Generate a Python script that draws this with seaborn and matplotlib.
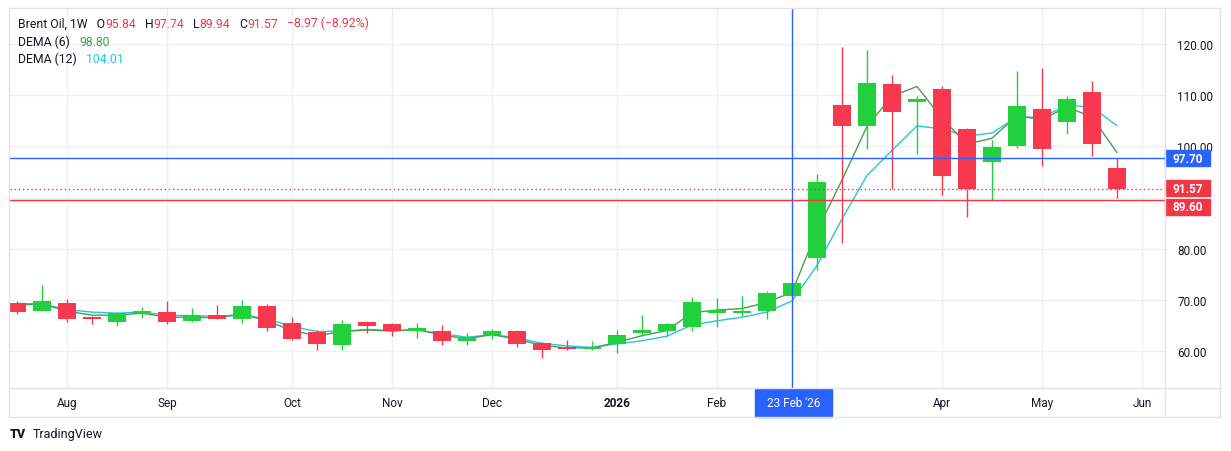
import numpy as np
import pandas as pd
import seaborn as sns
import matplotlib.pyplot as plt
import matplotlib.dates as mdates
import matplotlib.transforms as mtransforms
from matplotlib.patches import Rectangle
from matplotlib.lines import Line2D

# weekly Brent candles, week starting Monday
weeks = pd.date_range('2025-07-21', periods=45, freq='W-MON')
opens = [69.4, 67.9, 69.4, 66.3, 65.6, 67.5, 67.6, 65.9, 67.0, 66.2,
         68.8, 65.5, 63.7, 61.1, 65.6, 65.3, 63.9, 63.9, 61.9, 63.2,
         63.9, 61.6, 60.6, 60.3, 61.3, 63.6, 63.9, 64.7, 67.5, 67.4,
         67.8, 70.7, 78.1, 108.1, 103.9, 112.2, 108.6, 111.2, 103.4, 96.9,
         100.1, 107.3, 104.7, 110.6, 95.84]
highs = [69.8, 72.9, 70.2, 66.8, 67.6, 68.6, 69.8, 68.5, 68.9, 69.9,
         69.2, 66.7, 64.1, 66.0, 65.8, 65.4, 65.4, 65.0, 63.5, 64.3,
         64.1, 61.8, 62.2, 62.0, 64.1, 67.1, 65.5, 70.6, 70.3, 70.7,
         71.8, 73.6, 94.6, 119.5, 118.8, 114.0, 109.9, 111.8, 103.5, 101.2,
         114.7, 115.3, 109.9, 112.8, 97.74]
lows = [67.3, 67.9, 65.6, 65.3, 64.8, 66.4, 65.3, 65.7, 66.2, 65.4,
        64.0, 62.1, 60.1, 60.1, 63.5, 62.9, 62.5, 61.2, 61.2, 62.3,
        60.8, 58.7, 60.1, 60.1, 59.7, 63.0, 62.9, 63.9, 64.7, 66.9,
        66.3, 70.6, 75.9, 81.2, 99.5, 91.7, 98.5, 90.4, 86.1, 89.3,
        99.6, 96.1, 102.5, 98.1, 89.94]
closes = [67.7, 69.7, 66.2, 66.2, 67.5, 67.7, 65.6, 67.0, 66.2, 68.8,
          64.4, 62.3, 61.3, 65.2, 64.8, 63.9, 64.5, 61.9, 62.7, 63.9,
          61.3, 60.2, 60.4, 60.5, 63.1, 64.1, 65.3, 69.6, 68.1, 67.8,
          71.3, 73.3, 93.1, 103.9, 112.4, 106.8, 109.3, 94.3, 91.6, 99.8,
          107.9, 99.5, 109.2, 100.5, 91.57]
dema6 = [69.0, 69.2, 67.8, 67.0, 67.0, 67.4, 66.6, 66.6, 66.5, 67.2,
         65.9, 64.0, 63.0, 63.8, 64.1, 63.9, 64.2, 63.1, 62.4, 63.2,
         62.3, 61.1, 60.6, 60.6, 61.7, 63.0, 64.0, 67.5, 68.0, 68.3,
         69.5, 71.5, 83.5, 93.4, 103.9, 109.8, 111.7, 105.5, 100.4, 101.6,
         106.0, 105.2, 107.7, 105.7, 98.80]
dema12 = [69.3, 69.2, 68.1, 67.6, 67.4, 67.6, 67.0, 66.9, 66.8, 67.1,
          66.3, 64.8, 63.8, 63.9, 64.2, 64.0, 64.1, 63.4, 62.7, 63.2,
          62.6, 61.5, 61.0, 60.7, 61.4, 62.0, 62.9, 65.1, 65.9, 66.6,
          67.6, 69.8, 76.7, 85.8, 94.3, 99.2, 104.0, 103.4, 102.0, 102.6,
          105.7, 105.7, 108.0, 107.7, 104.01]

tick_dates = pd.to_datetime(['2025-08-04', '2025-09-01', '2025-10-06', '2025-11-03',
                             '2025-12-01', '2026-01-05', '2026-02-02', '2026-03-02',
                             '2026-04-06', '2026-05-04', '2026-06-01'])
# Mar sits under the crosshair date label, so it is not shown
tick_labels = ['Aug', 'Sep', 'Oct', 'Nov', 'Dec', '2026', 'Feb', '', 'Apr', 'May', 'Jun']
price_ticks = [60, 70, 80, 90, 100, 110, 120]
# 90.00 is covered by the price labels
price_labels = ['60.00', '70.00', '80.00', '', '100.00', '110.00', '120.00']

cross_date = pd.Timestamp('2026-02-23')
cross_price = 97.70
last_close = 91.57
level = 89.60

UP = '#22cf3c'
DOWN = '#f7384e'
BLUE = '#2962ff'
RED = '#f23645'
TXT = '#131722'
GRID = '#eef0f4'

sns.set_style('white')
plt.rcParams['font.family'] = ['Roboto', 'DejaVu Sans']

W, H = 1231, 452
fig = plt.figure(figsize=(W / 100, H / 100), dpi=100)
L, R, T, B = 10, 1165, 10, 389
ax = fig.add_axes([L / W, 1 - B / H, (R - L) / W, (B - T) / H])

x = mdates.date2num(weeks)
o, h, l, c = map(np.array, (opens, highs, lows, closes))
up = c >= o
cols = np.where(up, UP, DOWN)

# DEMA lines
sns.lineplot(x=weeks, y=dema12, ax=ax, color='#26c6da', lw=1, zorder=2)
sns.lineplot(x=weeks, y=dema6, ax=ax, color='#4a9e52', lw=1, zorder=2)

# candles
ax.vlines(x, l, h, colors=cols, lw=1, zorder=3)
body = np.maximum(np.abs(c - o), 0.4)
ax.bar(x, body, bottom=np.minimum(o, c), width=5.3, color=cols, lw=0, zorder=4)

# grid
for d in tick_dates:
    ax.axvline(d, color=GRID, lw=1, zorder=0)
for p in price_ticks:
    ax.axhline(p, color=GRID, lw=1, zorder=0)

# crosshair + levels
ax.axvline(cross_date, color=BLUE, lw=1, zorder=5)
ax.axhline(cross_price, color=BLUE, lw=1, zorder=5)
ax.axhline(last_close, color=RED, lw=1, ls=(0, (1, 2)), zorder=5)
ax.axhline(level, color=RED, lw=1, zorder=5)

x0 = mdates.date2num(weeks[0])
ax.set_xlim(x0 - 0.28 * 7, x0 + 45.92 * 7)
ax.set_ylim(52.77, 126.84)

ax.set_xticks(tick_dates)
ax.set_xticklabels(tick_labels)
for t in ax.get_xticklabels():
    if t.get_text() == '2026':
        t.set_fontweight('bold')
ax.tick_params(axis='x', length=0, pad=6, labelsize=8.5, labelcolor=TXT)
ax.yaxis.tick_right()
ax.set_yticks(price_ticks)
ax.set_yticklabels(price_labels)
ax.tick_params(axis='y', length=0, pad=9, labelsize=8.5, labelcolor=TXT)
ax.set_xlabel('')
ax.set_ylabel('')
for s in ax.spines.values():
    s.set_visible(False)

# price labels on the right scale
ppu = (B - T) / (126.84 - 52.77)
bt = mtransforms.blended_transform_factory(ax.transAxes, ax.transData)
bw = 45 / (R - L)
bh = 16 / ppu
for val, col, shift in [(cross_price, BLUE, 0), (last_close, RED, 1), (level, RED, -7)]:
    yc = val + shift / ppu
    ax.add_patch(Rectangle((1.0, yc - bh / 2), bw, bh, transform=bt, color=col,
                           clip_on=False, zorder=10))
    ax.text(1.0 + bw / 2, yc, f'{val:.2f}', transform=bt, color='white',
            fontsize=8.5, fontweight='semibold', ha='center', va='center',
            zorder=11, clip_on=False)

# date label under crosshair
dt = mtransforms.blended_transform_factory(ax.transData, fig.transFigure)
cx = mdates.date2num(cross_date)
ax.add_patch(Rectangle((cx - 37 / 25 * 7, 1 - 418 / H), 77 / 25 * 7, 28 / H,
                       transform=dt, color=BLUE, clip_on=False, zorder=10))
ax.text(cx + 0.5, 1 - 404 / H, "23 Feb '26", transform=dt, color='white',
        fontsize=8.5, ha='center', va='center', zorder=11, clip_on=False)

# frame lines
for xs, ys in [([9, 1220], [9, 9]), ([9, 1220], [B, B]), ([9, 1220], [418, 418]),
               ([9, 9], [9, 418]), ([R, R], [9, 418]), ([1220, 1220], [9, 418])]:
    fig.add_artist(Line2D([v / W for v in xs], [1 - v / H for v in ys],
                          color='#e0e3eb', lw=1))


# header legend
def chain(parts, x0, y0, fs=8.8):
    prev = fig.text(x0 / W, 1 - y0 / H, parts[0][0], color=parts[0][1],
                    fontsize=fs, va='center', ha='left')
    for s, col in parts[1:]:
        prev = ax.annotate(s, xy=(1, 0), xycoords=prev, va='bottom', ha='left',
                           color=col, fontsize=fs, annotation_clip=False)


chain([('Brent Oil, 1W   O', TXT), ('95.84', RED), ('   H', TXT), ('97.74', RED),
       ('   L', TXT), ('89.94', RED), ('   C', TXT), ('91.57', RED),
       ('   \u22128.97 (\u22128.92%)', RED)], 18, 24)
chain([('DEMA (6)   ', TXT), ('98.80', '#43a047')], 18, 42)
chain([('DEMA (12)   ', TXT), ('104.01', '#26c6da')], 18, 59)

# footer
fig.text(10 / W, 1 - 435 / H, 'TV', fontsize=9, fontweight='heavy', color=TXT,
         va='center', ha='left')
fig.text(33 / W, 1 - 435 / H, 'TradingView', fontsize=9, color=TXT,
         va='center', ha='left')

fig.savefig('out.png', dpi=100, facecolor='white')
